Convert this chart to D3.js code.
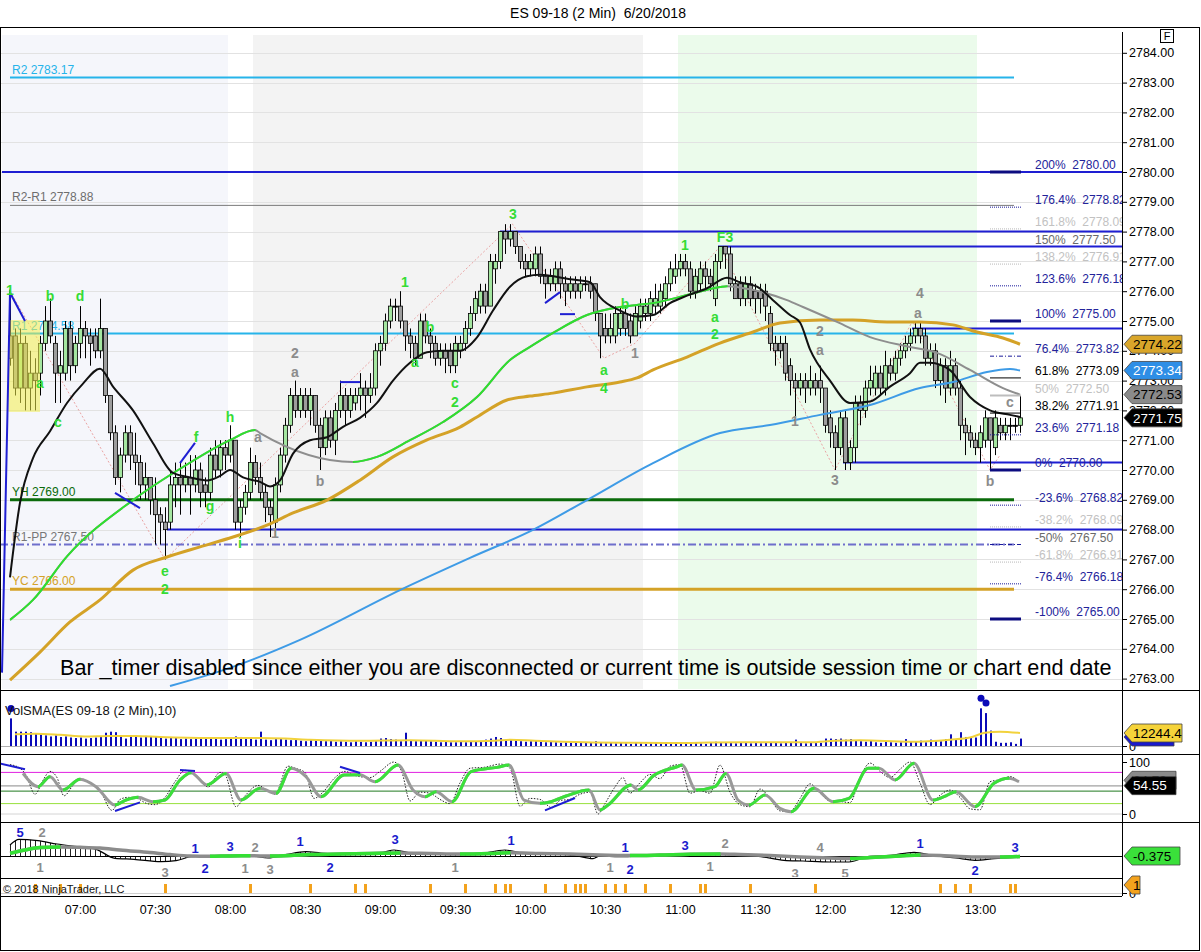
<!DOCTYPE html>
<html><head><meta charset="utf-8">
<script src="https://cdn.jsdelivr.net/npm/d3@7"></script>
<style>
body{margin:0;background:#fff}
svg{font-family:Arial,"Liberation Sans",sans-serif}
.pre{white-space:pre}
</style>
</head><body>
<svg id="c" width="1201" height="952"></svg>
<script>
// ---------------- DATA ----------------
const title = "ES 09-18 (2 Min)  6/20/2018";
const sessionStart = new Date(2018,5,20,6,32);   // first 2-minute bar
const barMinutes = 2;
const opens = [2774.5,2774.5,2772.75,2774.25,2772.75,2773.25,2773.25,2774.25,2775,2774.25,
2773.25,2773.25,2774.75,2773.5,2774.25,2774.75,2774.5,2774.5,2774,2774.75,
2772.5,2771.25,2769.75,2770.5,2771.25,2770.5,2770.25,2769.5,2769.75,2769,
2768.5,2768.25,2768.25,2769.5,2769.75,2769.5,2769.75,2769.5,2770,2769.5,
2769.25,2770.5,2770,2770.75,2770.5,2771,2768.25,2768.75,2769.25,2770.25,
2769.75,2769.25,2768.75,2768.25,2769.5,2770.5,2771.5,2772.5,2772,2772.5,
2772,2772.5,2771.5,2770.75,2771.75,2771,2772,2772.5,2772,2772.25,
2772.5,2772.75,2772.5,2772.75,2774,2774.25,2775,2775.5,2775.5,2775,
2774.5,2774.25,2773.75,2775,2774.5,2774.25,2773.75,2774,2774,2773.5,
2774,2774.25,2774.75,2775.25,2775.5,2776,2775.5,2776.75,2777,2778,
2777.75,2778,2777.5,2777,2776.75,2776.75,2777.25,2776.5,2776.25,2776.25,
2776.75,2776.25,2776,2776.25,2776,2776.25,2776.25,2776.25,2775.25,2774.75,
2774.5,2774.5,2774.75,2775.25,2775,2774.5,2775,2775.25,2775.25,2775.5,
2775.5,2775.75,2776.25,2776.5,2776.75,2777,2776.75,2776,2776.25,2776.75,
2776.5,2775.75,2777,2777.5,2777.25,2776.25,2776.25,2775.75,2776.25,2776,
2776,2776,2775.25,2774.25,2774.25,2774.25,2773.5,2773,2772.75,2773,
2772.75,2773,2773,2772.75,2771.75,2771.25,2770.75,2771.75,2770.25,2770.75,
2772.25,2772,2772.75,2772.75,2773.25,2772.75,2773.5,2773.25,2773.75,2774,
2774.25,2774.5,2774.75,2774.5,2773.75,2774,2773,2773.5,2772.75,2773.5,
2772.75,2771.5,2771.25,2771,2770.75,2771,2771.75,2770.75,2771.5,2771.25,
2771.5,2771.5,2771.5];
const highs = [2776,2774.75,2774.75,2774.5,2774,2773.75,2774.5,2775.5,2775.75,2774.5,
2774,2775,2775,2774.5,2775.5,2775,2774.75,2774.75,2775.75,2774.75,
2772.5,2771.5,2770.75,2771.5,2771.5,2771.25,2770.5,2770.25,2769.75,2769.75,
2768.75,2768.75,2770,2770.25,2770.25,2770.25,2770.5,2770.5,2770.25,2769.75,
2770.75,2771,2771,2771,2771.5,2771,2769,2769.5,2770.75,2770.5,
2770.25,2769.5,2769,2769.75,2770.75,2771.75,2772.75,2773,2772.75,2772.75,
2772.75,2772.5,2771.75,2772,2772,2772.25,2773,2772.75,2772.75,2772.75,
2773.25,2773,2773.25,2774.25,2774.5,2775.25,2775.75,2775.75,2776,2775,
2774.75,2774.5,2775.25,2775.25,2774.75,2774.5,2774.25,2774.25,2774.25,2774.5,
2774.5,2775,2775.5,2776,2776.25,2776.25,2777.25,2777.25,2778,2778.25,
2778.25,2778,2777.5,2777.25,2777.25,2777.5,2777.5,2776.75,2776.75,2777,
2777,2776.5,2776.5,2776.5,2776.5,2776.5,2776.5,2776.25,2775.25,2775.25,
2775.25,2775.5,2775.5,2775.5,2775.25,2775.5,2775.75,2775.75,2776,2776.25,
2776.25,2776.5,2777,2777.25,2777.25,2777.25,2777,2776.75,2777,2777,
2776.75,2777.25,2777.5,2777.5,2777.5,2776.5,2776.5,2776.5,2776.5,2776.25,
2776.25,2776.25,2775.5,2774.5,2774.5,2774.5,2773.75,2773.25,2773.25,2773.25,
2773.5,2773.25,2773.5,2772.75,2772,2771.5,2772,2772,2771,2772.5,
2772.5,2773,2773.5,2773.5,2773.5,2774,2773.75,2774,2774.25,2774.5,
2774.75,2775,2775,2774.75,2774.25,2774.25,2773.75,2773.75,2774,2773.75,
2773,2771.75,2771.5,2771.25,2771.5,2772,2771.75,2772,2771.75,2771.75,
2771.75,2771.75,2772.5];
const lows = [2773.5,2772.5,2772.25,2772,2772,2772,2772.5,2774,2774.25,2772.25,
2772.25,2773,2773,2773.25,2773.75,2773.75,2773.5,2773.75,2773.75,2772.25,
2771,2769.5,2769.25,2770.25,2770,2769.5,2769,2769,2768.5,2767.5,
2767.5,2767,2768,2768.75,2768.5,2769.25,2768.5,2769.25,2768.75,2768.75,
2769,2769.75,2769.75,2770,2770.25,2768,2767.75,2768.5,2769,2769.5,
2769,2768.25,2767.75,2767.75,2769.25,2770.25,2771.25,2771.75,2771.75,2771.75,
2771.5,2771.25,2770,2770.5,2770.75,2770.5,2771.75,2771.5,2771.75,2772,
2772,2771.75,2772.25,2772.5,2773.5,2774,2774.75,2775,2774.75,2774,
2773.75,2773.5,2773.75,2774.25,2773.75,2773.5,2773.5,2773.25,2773.25,2773.25,
2773.75,2774,2774.5,2775,2775.25,2775.25,2775.5,2776.25,2776.75,2777.25,
2777.5,2777.25,2776.75,2776.5,2776.5,2776.5,2776.25,2775.75,2776,2776,
2775.75,2775.5,2775.75,2775.75,2775.75,2776,2775.75,2775,2773.75,2774.25,
2774.25,2774.25,2774.5,2774.5,2774.25,2774.5,2774.75,2775,2775,2775.25,
2775.25,2775.5,2776,2776.25,2776.5,2776.5,2775.75,2775.75,2776,2776,
2776,2775.5,2776.75,2776.75,2776,2775.75,2775.5,2775.5,2775.5,2775.25,
2775.25,2775,2774,2773.5,2773.75,2773,2772.5,2771.75,2772.5,2772.25,
2772.5,2772.5,2772.25,2771.25,2770.75,2770,2770.5,2770,2770,2770.25,
2771.5,2771.75,2772.5,2772.5,2772.5,2772.5,2773,2773,2773.5,2773.75,
2774,2774.25,2774.25,2773.5,2773.5,2772.75,2772.5,2772.25,2772.5,2772.5,
2771,2770.5,2770.75,2770.5,2770.25,2770.75,2770,2770.5,2771,2771,
2771,2771.25,2771.25];
const closes = [2773.75,2772.75,2774.25,2772.75,2773.25,2773,2774.25,2775,2774.5,2773.25,
2773.5,2774.75,2773.5,2774.25,2774.75,2774.5,2774.25,2774,2774.75,2772.5,
2771.25,2769.75,2770.5,2771.25,2770.5,2770.25,2769.5,2769.75,2769,2768.5,
2768.25,2768,2769.5,2769.75,2769.5,2769.75,2769.5,2770,2769.25,2769.25,
2770.5,2770,2770.75,2770.5,2771,2768.25,2768.75,2769.25,2770.25,2769.75,
2769.25,2768.75,2768.5,2769.5,2770.5,2771.5,2772.5,2772,2772.5,2772,
2772.5,2771.5,2770.75,2771.75,2771,2772,2772.5,2772,2772.5,2772.5,
2772.75,2772.5,2772.75,2774,2774.25,2775,2775.5,2775.5,2775,2774.5,
2774.25,2773.75,2775,2774.5,2774.25,2773.75,2774,2773.75,2773.5,2774.25,
2774.25,2774.75,2775.25,2775.75,2776,2775.5,2777,2777,2778,2777.75,
2778,2777.5,2777,2776.75,2777,2777.25,2776.5,2776.25,2776.5,2776.75,
2776.25,2776,2776.25,2776,2776.25,2776.25,2776,2775.25,2774.5,2774.5,
2774.75,2775.25,2775.25,2774.75,2774.5,2775.25,2775.5,2775.5,2775.75,2775.75,
2776,2776.25,2776.75,2776.75,2777,2776.75,2776,2776.5,2776.75,2776.5,
2776.25,2777,2777.5,2777.25,2776.25,2775.75,2775.75,2776.25,2775.75,2775.75,
2775.75,2775.5,2774.25,2774,2774,2773.25,2773,2772.75,2773,2772.75,
2773,2772.75,2772.75,2771.5,2771.25,2770.75,2771.75,2770.25,2770.75,2772.25,
2772,2772.75,2773,2773.25,2772.75,2773.5,2773.25,2773.75,2774,2774.25,
2774.5,2774.75,2774.5,2773.75,2774,2773,2773.5,2772.75,2773.5,2772.75,
2771.5,2771.25,2771,2770.75,2771.25,2771.75,2771,2771.75,2771.25,2771.5,
2771.5,2771.5,2771.75];
const volumes = [26000,13500,13500,13500,13000,12000,11000,10000,9000,10000,
8500,9000,8000,7500,8000,7000,7500,8000,9000,12500,
13500,13000,9000,7000,8500,9000,8000,9500,9000,8500,
8000,7000,8500,7500,6500,7000,6500,7000,8000,7500,
7000,8000,6000,6500,7000,9000,8500,8000,7000,6000,
13500,6000,5500,6500,7000,6000,5500,6000,5000,4500,
5500,5000,5000,4500,5000,4000,4500,4000,3500,4500,
4000,3500,4000,4500,7000,7500,6500,6000,4500,12500,
5000,4500,5500,5000,4500,4000,3500,4000,3500,3500,
4000,3500,4000,4000,4500,6000,7000,8500,7500,6000,
5500,5000,4500,4000,4500,5000,4000,3500,4000,3500,
3000,3500,3000,3500,3000,3500,3000,4500,3500,2500,
3000,2500,3000,2500,2000,3000,2500,2000,2500,3000,
2500,2000,3000,2500,3000,2500,3500,3000,2500,2000,
3000,4000,3500,3500,3000,2500,3000,3500,2500,3000,
2500,3000,3500,3000,2500,3000,3500,6000,3000,2500,
3000,3500,3000,7000,7000,6500,7000,6000,6500,5000,
4500,4000,5000,3500,3000,4000,3500,3000,3500,6500,
4000,4500,5000,3500,6000,5000,4500,6500,11000,6500,
13000,8500,7500,8000,35500,31000,14500,4000,3000,3000,
3500,2000,7000];
const volSpikeBars = [0,194,195];
const volSma = [[1,11000],[5,11500],[10,10500],[15,9000],[20,9500],[25,9500],[30,8500],[40,7500],[50,7500],[55,7000],[60,6000],[70,5000],[80,5500],[90,4500],[97,5000],[100,6000],[105,5000],[115,3500],[125,3000],[135,2800],[140,3200],[150,3500],[160,3500],[165,5000],[170,5500],[180,4000],[188,6000],[192,8000],[195,12500],[198,13500],[202,12244.4]];

// moving averages: [bar index, price]
const maFast = [[0,2766.4],[2,2768.9],[4.6,2770.4],[8,2771.3],[11.4,2772.25],[14.6,2772.9],[18,2773.4],[20.6,2772.8],[24.6,2772.0],[28.6,2770.9],[32.6,2769.9],[36,2769.75],[39.4,2769.65],[42,2769.8],[44,2770.0],[46.6,2769.75],[50,2769.6],[52,2769.45],[54,2769.65],[56.6,2770.55],[60,2771.0],[63.4,2771.1],[66.6,2771.45],[70,2771.75],[73.4,2772.25],[76.6,2773.0],[80,2773.6],[83.4,2773.95],[86.6,2774.0],[90,2774.0],[93.4,2774.45],[96.6,2775.35],[100,2776.15],[103.4,2776.5],[106,2776.55],[112,2776.4],[116,2776.3],[118,2775.8],[122,2775.35],[125.4,2775.15],[128.6,2775.2],[132,2775.6],[135.4,2775.85],[139.4,2776.1],[143.4,2776.45],[146,2776.3],[149.4,2776.15],[152.6,2775.7],[156,2775.2],[158,2774.95],[160,2774.05],[164,2773.0],[168,2772.25],[172,2772.3],[176,2772.8],[180,2773.25],[182,2773.6],[184,2773.6],[188,2773.35],[192,2772.45],[196,2772.0],[200,2771.85],[202,2771.78]];
const maMid = [[0,2764.97],[4.6,2765.64],[11.4,2767.1],[24.6,2768.99],[34.6,2770.1],[44,2771.0],[49,2771.34],[50,2771.24],[68.6,2770.27],[73.4,2770.44],[80,2771.0],[86.6,2771.61],[93.4,2772.45],[100,2773.69],[104,2774.13],[108.6,2774.6],[115.4,2775.2],[122,2775.47],[125.4,2775.54],[128.6,2775.6],[135.4,2775.87],[142,2776.14],[143.4,2776.17],[148.6,2776.04],[155.4,2775.7],[158.6,2775.47],[165.4,2774.97],[172,2774.46],[180,2774.13],[185.4,2773.93],[192,2773.36],[198.6,2772.75],[202,2772.53]];
const maSlow = [[0,2762.95],[6,2763.89],[12,2764.9],[18,2765.64],[24.6,2766.64],[31.4,2767.08],[38,2767.42],[44.6,2767.75],[51.4,2768.15],[56.6,2768.56],[63.4,2768.99],[70,2769.66],[76.6,2770.44],[83.4,2771.01],[90,2771.44],[93.4,2771.78],[99.4,2772.35],[104,2772.48],[108.6,2772.58],[115.4,2772.79],[122,2772.95],[125.4,2773.09],[128.6,2773.36],[135.4,2773.79],[142,2774.26],[148.6,2774.63],[154,2774.93],[162,2775.03],[168.6,2775.03],[175.4,2774.97],[182,2774.97],[188.6,2774.87],[193.4,2774.63],[198.6,2774.43],[202,2774.22]];
const maLong = [[32,2762.75],[44,2763.36],[58,2764.3],[78,2765.97],[92,2767.05],[104.6,2767.99],[115.4,2768.99],[128.6,2770.23],[142,2771.24],[152,2771.51],[162,2771.85],[172,2772.18],[182,2772.75],[188.6,2772.95],[195.4,2773.29],[200,2773.39],[202,2773.34]];

// pivot levels
const pivotNames = ["R2","R2-R1","R1","YH","R1-PP","YC"];
const pivotValues = [2783.17,2778.88,2774.58,2769.00,2767.50,2766.00];
// swing lines (price, start bar)
const swingPrices = [2780.00,2778.00,2777.50,2774.75,2770.25,2768.00];
const swingStarts = [-1.6,98,141.6,180.4,166.6,31.4];
// fibonacci
const fibPcts = ["200%","176.4%","161.8%","150%","138.2%","123.6%","100%","76.4%","61.8%","50%","38.2%","23.6%","0%","-23.6%","-38.2%","-50%","-61.8%","-76.4%","-100%"];
const fibPrices = [2780.00,2778.82,2778.09,2777.50,2776.91,2776.18,2775.00,2773.82,2773.09,2772.50,2771.91,2771.18,2770.00,2768.82,2768.09,2767.50,2766.91,2766.18,2765.00];
// sessions (bar index ranges)
const sessionRanges = [[-1.6,43.6],[48.6,126.6],[133.6,193.4]];
// swing zigzag
const zigzag = [[0,2776],[31,2767],[100.5,2778.25],[118.8,2773.75],[125,2774.25],[142,2777.5],[165,2770],[180.5,2775],[196,2770],[198,2770.5]];
const blueZig = [[-1.6,2763.2],[0,2775.95],[3,2775.0]];
const blueMarks = [[[21,2769.23],[26,2768.72]],[[34,2770.23],[37,2770.91]],[[66,2772.95],[70,2772.95]],[[107,2775.6],[110,2775.97]],[[110,2775.23],[113,2775.23]]];
const highlightBox = [[-0.3,2775.03],[6,2771.95]];
// wave labels [bar, price, text, kind]
const waveLabels = [[0,2776.04,"1","g"],[8,2775.84,"b","g"],[14,2775.84,"d","g"],[6,2772.92,"a","g"],[9.6,2771.61,"c","g"],[31,2766.61,"e","g"],[31,2766.01,"2","g"],[37.2,2771.11,"f","g"],[40,2768.79,"g","g"],[44,2771.78,"h","g"],[46,2767.55,"i","g"],[49.6,2771.11,"a","k"],[53,2767.89,"1","k"],[57,2773.93,"2","k"],[57,2773.29,"a","k"],[62,2769.63,"b","k"],[79,2776.31,"1","g"],[84,2774.8,"b","g"],[81,2773.62,"a","g"],[89,2772.92,"c","g"],[89,2772.28,"2","g"],[100.6,2778.59,"3","g"],[118.8,2773.36,"a","g"],[118.8,2772.75,"4","g"],[123,2775.57,"b","g"],[125,2773.93,"1","k"],[135,2777.55,"1","g"],[143,2777.82,"F3","g"],[141,2775.13,"a","g"],[141,2774.56,"2","g"],[162,2774.66,"2","k"],[162,2774.03,"a","k"],[157,2771.64,"1","k"],[165,2769.66,"3","k"],[182,2775.94,"4","k"],[181.6,2775.27,"a","k"],[196,2769.63,"b","k"],[200,2772.28,"c","k"]];

// stochastics
const stochLevels = [80,54,44,20,0];
const stochSlow = [[2.6,78],[5.6,52.6],[8,71.8],[10.6,46.2],[14,66.7],[17.2,52.6],[21,17.3],[23.2,26.9],[25.6,32],[28.6,23.5],[31,26.9],[34,65.4],[36.2,79.5],[39.4,55.8],[43.2,78],[46.2,26.9],[50,49.4],[53.2,39.7],[56.2,87.8],[59.2,71.8],[62.2,33.3],[66.8,75],[70,75.5],[73,62],[77.6,94],[80.6,46.2],[83,33.3],[85.2,42.9],[88.4,23.7],[92.2,81.4],[97.4,89.7],[99.8,94],[102.8,26.9],[106,20.5],[108.2,23.7],[111.2,34.6],[115.8,46.2],[118,7.7],[119.6,17.3],[124.2,55.8],[125.6,46.2],[128.8,74.4],[133.4,90.8],[134.4,94],[137.2,46.2],[141,52.6],[143.2,78],[145.6,26.9],[147.8,17.3],[151,36.5],[154,10.9],[156.2,4.5],[160.8,49.4],[164.6,23.7],[167.8,30],[171.6,87.8],[173.8,88.2],[177,65.4],[180.8,97.4],[184.6,26.9],[186.8,33.3],[189.2,42.9],[193,14.1],[196.8,59],[199.8,68.6],[201.8,62]];
const stochFast = [[0,95],[2,88],[3.2,75],[5,38],[6.6,65],[8,82],[9.4,70],[10.8,35],[12.6,55],[14,68],[16,60],[18,45],[20.4,7],[22,28],[23.6,32],[25.4,30],[27.4,20],[29,18],[31,32],[33,62],[35,84],[36.4,80],[38.2,62],[39.6,52],[42,80],[43,76],[45.2,14],[47,35],[49.6,55],[51.6,44],[53,38],[55.6,92],[57,88],[59,80],[60.8,30],[62.4,40],[65,70],[67,82],[69,74],[72,70],[74,82],[76.8,100],[78.4,80],[80,25],[82,42],[84,40],[86,28],[88,20],[90,60],[92,88],[95,90],[98,96],[100,88],[102,15],[104,30],[106,28],[108.4,12],[110,26],[112,28],[114,38],[116,42],[117.6,0],[119,20],[121,52],[122.6,70],[124,40],[126,60],[128,76],[130,68],[132,92],[134,95],[136,40],[138,45],[140,40],[142,94],[144,42],[146,18],[148,14],[150,48],[152,30],[154,6],[156,5],[158,30],[160,58],[162,40],[164,25],[166,24],[168,22],[170,70],[172,98],[174,82],[176,70],[178,86],[180,100],[182,60],[184,18],[186,36],[188,46],[190,32],[192,10],[194,8],[196,62],[198,66],[200,72],[202,60]];
const stochDiv = [[[-2,97],[3,86]],[[21,5.7],[26,22.4]],[[34,84.6],[37,82.7]],[[66,90.8],[70,79]],[[107,7],[113,30.8]]];

// oscillator (macd-style)
const oscLine = [[0,1.1],[1.8,1.67],[5.6,1.53],[9.4,1.2],[13.4,0.93],[17.2,0.67],[21,-0.23],[24.8,-0.33],[30.2,-0.57],[33.2,-0.47],[36.2,-0.07],[39.4,0],[44,0.07],[48.6,0],[51.6,-0.2],[55.4,0.17],[59.2,0.43],[62.2,0.3],[66.8,0.2],[74.6,0.37],[76.8,0.6],[80.6,0.27],[86,0.2],[89.8,0.13],[93.6,0.2],[99,0.6],[102.8,0.27],[109,0.2],[112.8,0.07],[116.6,-0.27],[118,0],[121.8,-0.07],[125.6,0],[129.4,0.07],[134.8,0.23],[142.4,0.23],[144.8,0.07],[150.2,-0.07],[154.8,-0.43],[158.6,-0.5],[164,-0.6],[167.8,-0.6],[171.6,-0.07],[176.2,0.07],[180.8,0.37],[184.6,0.07],[189.2,-0.2],[193,-0.43],[196.8,-0.27],[201.8,-0.1]];
const oscSignal = [[0,0.27],[3,0.6],[6,0.85],[10,0.9],[14,0.87],[18,0.8],[22,0.6],[28,0.35],[32,0.15],[36,0],[40,-0.03],[44,0.01],[48,0.02],[52,0.0],[56,0.05],[60,0.15],[66,0.2],[72,0.25],[78,0.3],[84,0.25],[90,0.2],[96,0.25],[100,0.32],[106,0.25],[112,0.2],[118,0.1],[124,0.05],[130,0.1],[136,0.18],[142,0.2],[146,0.15],[152,0.05],[158,-0.1],[164,-0.2],[168,-0.25],[172,-0.15],[178,0],[182,0.1],[186,0.05],[190,-0.05],[194,-0.1],[198,-0.1],[202,-0.05]];
const oscLabels = [[2,2.4,"5","b"],[6.4,2.4,"2","k"],[6,-1.1,"1","k"],[31,-1.6,"3","k"],[37,0.8,"1","b"],[39,-1.2,"2","b"],[44,1.0,"3","b"],[49,0.9,"2","k"],[47,-1.2,"1","k"],[52,-1.3,"3","k"],[58,1.5,"1","b"],[64,-1.1,"2","b"],[77,1.7,"3","b"],[89,-1.1,"1","k"],[100.2,1.6,"1","b"],[123,0.9,"1","b"],[124,-1.3,"2","b"],[120,-1.1,"1","k"],[135,1.1,"3","b"],[143,1.3,"2","k"],[140,-1.0,"1","k"],[157,-1.7,"3","k"],[162,0.9,"4","k"],[167,-1.7,"5","k"],[182,1.3,"1","b"],[193,-1.4,"2","b"],[201,0.9,"3","b"]];
// signal markers
const markerBars = [5,10,14,31,48,60,69,71,84,91,97,99,100,107,111,113,114,115,119,121,123,127,132,138,139,148,161,186,189,192,200,201];

const priceTicks = d3.range(2763,2785);
const lastTags = [[2774.22,"#d9a62a","#000"],[2773.34,"#2e8ee6","#fff"],[2772.53,"#8a8a8a","#000"],[2771.75,"#000","#fff"]];
const timerText = "Bar _timer disabled since either you are disconnected or current time is outside session time or chart end date";

// ---------------- CHART ----------------
const svg = d3.select("#c");
const AX = 1122;
const defs = svg.append("defs");
const x = d3.scaleLinear().domain([0,202]).range([10,1020]);
const tx = d3.scaleTime().domain([sessionStart, d3.timeMinute.offset(sessionStart, 202*barMinutes)]).range([10,1020]);
const y = d3.scaleLinear().domain([2763,2784]).range([678.6,52.8]);
const yV = d3.scaleLinear().domain([0,12244.4]).range([746,733]);
const yS = d3.scaleLinear().domain([0,100]).range([814,762]);
const yO = d3.scaleLinear().domain([0,1]).range([856,846]);

const NAVY="#23239b";

function clip(id, x0, y0, w, h){ defs.append("clipPath").attr("id",id).append("rect").attr("x",x0).attr("y",y0).attr("width",w).attr("height",h); }
clip("cp",1,28,AX-1,662); clip("cv",1,691,AX-1,62); clip("cs",1,755,AX-1,66); clip("co",1,823,AX-1,54);
clip("cfib",1,28,AX-1,662);

// title
svg.append("text").attr("class","pre").attr("x",598).attr("y",18).attr("text-anchor","middle").attr("font-size",14).text(title);

// ---- price panel
const P = svg.append("g").attr("clip-path","url(#cp)");
const sessFill = ["#f5f6fb","#f3f3f3","#ebfbeb"];
P.selectAll("rect.sess").data(sessionRanges).join("rect").attr("x",d=>x(d[0])).attr("width",d=>x(d[1])-x(d[0])).attr("y",35).attr("height",654).attr("fill",(d,i)=>sessFill[i]);
P.selectAll("line.grid").data(priceTicks).join("line").attr("x1",0).attr("x2",AX).attr("y1",d=>Math.round(y(d))+0.5).attr("y2",d=>Math.round(y(d))+0.5).attr("stroke","#e2e2e2");

// pink zigzag
P.append("path").attr("d",d3.line().x(d=>x(d[0])).y(d=>y(d[1]))(zigzag)).attr("fill","none").attr("stroke","#eaa4a4").attr("stroke-width",1).attr("stroke-dasharray","2,2");

// pivot lines
const pivStyle = [{c:"#26b4ea",w:2,t:"#26b4ea"},{c:"#7a7a7a",w:1,t:"#6e6e6e"},{c:"#26b4ea",w:2,t:"#26b4ea"},{c:"#0b6b0b",w:3,t:"#0b6b0b"},{c:"#6f6fcc",w:2,t:"#777",dash:"8,3,2,3"},{c:"#d4a227",w:3,t:"#d4a227"}];
const pivStart = [0,0,0,0,-2,0];
pivotValues.forEach((v,i)=>{
  const s = pivStyle[i];
  P.append("line").attr("x1",x(pivStart[i])).attr("x2",x(200.8)).attr("y1",y(v)).attr("y2",y(v)).attr("stroke",s.c).attr("stroke-width",s.w).attr("stroke-dasharray",s.dash||null);
  P.append("text").attr("x",12).attr("y",y(v)-4).attr("font-size",12).attr("fill",s.t).text(pivotNames[i]+" "+v.toFixed(2));
});
// swing horizontal lines
swingPrices.forEach((v,i)=>{
  P.append("line").attr("x1",x(swingStarts[i])).attr("x2",AX).attr("y1",y(v)).attr("y2",y(v)).attr("stroke","#1e1ed2").attr("stroke-width",2);
});

// candles
const bars = d3.range(opens.length).map(i=>({i,o:opens[i],h:highs[i],l:lows[i],c:closes[i]}));
const CG = P.append("g");
CG.selectAll("line").data(bars).join("line").attr("x1",d=>x(d.i)+0.5).attr("x2",d=>x(d.i)+0.5).attr("y1",d=>y(d.h)).attr("y2",d=>y(d.l)).attr("stroke","#000").attr("stroke-width",1);
CG.selectAll("rect").data(bars).join("rect")
  .attr("x",d=>x(d.i)-1.5).attr("width",4)
  .attr("y",d=>y(Math.max(d.o,d.c))).attr("height",d=>Math.max(1,Math.abs(y(d.o)-y(d.c))))
  .attr("fill",d=>d.c>d.o?"#a4e6a0":d.c<d.o?"#9d9d9d":"#000").attr("stroke","#000").attr("stroke-width",0.8);

// highlight box (translucent, over the bars)
P.append("rect").attr("x",x(highlightBox[0][0])).attr("y",y(highlightBox[0][1])).attr("width",x(highlightBox[1][0])-x(highlightBox[0][0])).attr("height",y(highlightBox[1][1])-y(highlightBox[0][1])).attr("fill","#f2ee4a").attr("opacity",0.55);

// slope colored line helper
let clipN=0;
function slopeLine(g, pts, xs, ys, up, down, width){
  const ln = d3.line().x(d=>xs(d[0])).y(d=>ys(d[1])).curve(d3.curveMonotoneX);
  g.append("path").attr("d",ln(pts)).attr("fill","none").attr("stroke",down).attr("stroke-width",width).attr("stroke-linejoin","round");
  const id="sl"+(clipN++);
  const cp = defs.append("clipPath").attr("id",id);
  for(let k=0;k<pts.length-1;k++) if(pts[k+1][1]>pts[k][1]) cp.append("rect").attr("x",xs(pts[k][0])).attr("width",xs(pts[k+1][0])-xs(pts[k][0])+0.5).attr("y",0).attr("height",952);
  g.append("path").attr("d",ln(pts)).attr("fill","none").attr("stroke",up).attr("stroke-width",width).attr("stroke-linejoin","round").attr("clip-path","url(#"+id+")");
}
const lineP = d3.line().x(d=>x(d[0])).y(d=>y(d[1])).curve(d3.curveMonotoneX);
P.append("path").attr("d",lineP(maLong)).attr("fill","none").attr("stroke","#3e9be6").attr("stroke-width",2);
P.append("path").attr("d",lineP(maSlow)).attr("fill","none").attr("stroke","#d4a227").attr("stroke-width",3);
slopeLine(P, maMid, x, y, "#2ee02e", "#8e8e8e", 2);
P.append("path").attr("d",lineP(maFast)).attr("fill","none").attr("stroke","#111").attr("stroke-width",2);

// blue marks
P.append("path").attr("d",d3.line().x(d=>x(d[0])).y(d=>y(d[1]))(blueZig)).attr("fill","none").attr("stroke","#1e1ed2").attr("stroke-width",2);
blueMarks.forEach(m=>P.append("line").attr("x1",x(m[0][0])).attr("y1",y(m[0][1])).attr("x2",x(m[1][0])).attr("y2",y(m[1][1])).attr("stroke","#1e1ed2").attr("stroke-width",2));

// fib markers + labels
const fibMark = ["thick","dotN","dotL","none","dotL","dotN","thick","ddN","solK","solL","solK","dotN","thick","dotN","dotL","ddN","dotL","dotN","thick"];
const fibTextCol = [NAVY,NAVY,"#c2c2c2","#6a6a6a","#c2c2c2",NAVY,NAVY,NAVY,"#000","#c2c2c2","#000",NAVY,NAVY,NAVY,"#c2c2c2","#6a6a6a","#c2c2c2",NAVY,NAVY];
const F = svg.append("g").attr("clip-path","url(#cfib)");
fibPrices.forEach((v,i)=>{
  const m = fibMark[i];
  if(m!=="none"){
    const ln = F.append("line").attr("x1",x(196)).attr("x2",x(202.2)).attr("y1",y(v)).attr("y2",y(v));
    if(m==="thick") ln.attr("stroke","#0c0c80").attr("stroke-width",3);
    else if(m==="dotN") ln.attr("stroke","#1a1a9a").attr("stroke-width",1).attr("stroke-dasharray","1,1");
    else if(m==="dotL") ln.attr("stroke","#b8b8b8").attr("stroke-width",1).attr("stroke-dasharray","1,1");
    else if(m==="ddN") ln.attr("stroke","#1a1a9a").attr("stroke-width",1).attr("stroke-dasharray","4,2,1,2");
    else if(m==="solK") ln.attr("stroke","#000").attr("stroke-width",1);
    else ln.attr("stroke","#bdbdbd").attr("stroke-width",2);
  }
  F.append("text").attr("class","pre").attr("x",1035).attr("y",y(v)-3).attr("font-size",12).attr("fill",fibTextCol[i]).text(fibPcts[i]+"  "+v.toFixed(2));
});

// wave labels
P.selectAll("text.wl").data(waveLabels).join("text").attr("x",d=>x(d[0])).attr("y",d=>y(d[1])).attr("dy","0.36em").attr("text-anchor","middle").attr("font-size",14).attr("font-weight","bold").attr("fill",d=>d[3]==="g"?"#35dc35":"#8c8c8c").text(d=>d[2]);

// timer text
P.append("text").attr("x",60).attr("y",675).attr("font-size",21.6).attr("fill","#000").text(timerText);

// price axis
const ay = svg.append("g").attr("transform",`translate(${AX},0)`).call(d3.axisRight(y).tickValues(priceTicks).tickFormat(d3.format(".2f")).tickSize(5).tickPadding(2));
ay.select(".domain").remove();
ay.selectAll("text").attr("font-size",12.5).attr("font-family","Arial, Liberation Sans, sans-serif").attr("fill","#000");

// ---- volume panel
const V = svg.append("g").attr("clip-path","url(#cv)");
V.append("line").attr("x1",0).attr("x2",AX).attr("y1",746.5).attr("y2",746.5).attr("stroke","#b0b0b0");
V.selectAll("rect").data(volumes).join("rect").attr("x",(d,i)=>x(i)).attr("width",2).attr("y",d=>yV(d)).attr("height",d=>yV(0)-yV(d)).attr("fill","#0a0ab8");
V.append("path").attr("d",d3.line().x(d=>x(d[0])).y(d=>yV(d[1])).curve(d3.curveMonotoneX)(volSma)).attr("fill","none").attr("stroke","#f2d23c").attr("stroke-width",2);
V.selectAll("circle").data(volSpikeBars).join("circle").attr("cx",d=>x(d)+1).attr("cy",d=>yV(volumes[d])-10).attr("r",3.5).attr("fill","#0a0ab8");
svg.append("text").attr("x",5).attr("y",715).attr("font-size",13).attr("fill","#111").text("VolSMA(ES 09-18 (2 Min),10)");

// ---- stochastics panel
const S = svg.append("g").attr("clip-path","url(#cs)");
const stochCols = ["#e020e0","#8a8a8a","#207a20","#98e03c","#d4d4d4"];
stochLevels.forEach((v,i)=>S.append("line").attr("x1",0).attr("x2",AX).attr("y1",yS(v)).attr("y2",yS(v)).attr("stroke",stochCols[i]).attr("stroke-width",1));
S.append("path").attr("d",d3.line().x(d=>x(d[0])).y(d=>yS(d[1])).curve(d3.curveMonotoneX)(stochFast)).attr("fill","none").attr("stroke","#222").attr("stroke-width",1).attr("stroke-dasharray","1.5,1.5");
slopeLine(S, stochSlow, x, yS, "#3ae03a", "#999999", 3);
stochDiv.forEach(m=>S.append("line").attr("x1",x(m[0][0])).attr("y1",yS(m[0][1])).attr("x2",x(m[1][0])).attr("y2",yS(m[1][1])).attr("stroke","#1e1ed2").attr("stroke-width",2));

// ---- oscillator panel
const O = svg.append("g").attr("clip-path","url(#co)");
const pat = defs.append("pattern").attr("id","hatch").attr("patternUnits","userSpaceOnUse").attr("x",x(0)-2).attr("y",0).attr("width",5).attr("height",10);
pat.append("line").attr("x1",2.5).attr("x2",2.5).attr("y1",0).attr("y2",10).attr("stroke","#222").attr("stroke-width",1);
O.append("path").attr("d",d3.area().x(d=>x(d[0])).y0(yO(0)).y1(d=>yO(d[1])).curve(d3.curveMonotoneX)(oscLine)).attr("fill","url(#hatch)");
O.append("line").attr("x1",0).attr("x2",AX).attr("y1",856.5).attr("y2",856.5).attr("stroke","#000");
O.append("path").attr("d",d3.line().x(d=>x(d[0])).y(d=>yO(d[1])).curve(d3.curveMonotoneX)(oscLine)).attr("fill","none").attr("stroke","#000").attr("stroke-width",1.2);
slopeLine(O, oscSignal, x, yO, "#33e033", "#8c8c8c", 3.5);
O.selectAll("text").data(oscLabels).join("text").attr("x",d=>x(d[0])).attr("y",d=>yO(d[1])).attr("dy","0.36em").attr("text-anchor","middle").attr("font-size",13).attr("font-weight","bold").attr("fill",d=>d[3]==="b"?"#1a1acd":"#8c8c8c").text(d=>d[2]);

// ---- marker panel
const M = svg.append("g");
M.append("line").attr("x1",0).attr("x2",AX).attr("y1",893.5).attr("y2",893.5).attr("stroke","#d0d0d0");
M.selectAll("rect").data(markerBars).join("rect").attr("x",d=>x(d)-1).attr("width",3).attr("y",884).attr("height",9).attr("fill","#f3a21d");
svg.append("text").attr("x",3).attr("y",893).attr("font-size",11).attr("fill","#111").text("\u00a9 2018 NinjaTrader, LLC");

// ---- frame & separators
svg.append("rect").attr("x",0.5).attr("y",27.5).attr("width",1199).attr("height",923).attr("fill","none").attr("stroke","#000");
[690,754,822].forEach(v=>svg.append("line").attr("x1",0).attr("x2",1200).attr("y1",v+0.5).attr("y2",v+0.5).attr("stroke","#000"));
[878,896].forEach(v=>svg.append("line").attr("x1",0).attr("x2",AX).attr("y1",v+0.5).attr("y2",v+0.5).attr("stroke","#000"));
svg.append("line").attr("x1",AX+0.5).attr("x2",AX+0.5).attr("y1",32).attr("y2",896).attr("stroke","#000");

// secondary axes ticks
function smallAxis(scale, vals){
  const g = svg.append("g").attr("transform",`translate(${AX},0)`).call(d3.axisRight(scale).tickValues(vals).tickFormat(d3.format("d")).tickSize(5).tickPadding(2));
  g.select(".domain").remove();
  g.selectAll("text").attr("font-size",12.5).attr("font-family","Arial, Liberation Sans, sans-serif");
}
smallAxis(yS,[0,100]);
smallAxis(yV,[0]);
smallAxis(d3.scaleLinear().domain([0,1]).range([893,883]),[0]);

// time axis
const at = svg.append("g").attr("transform","translate(0,896)").call(d3.axisBottom(tx).ticks(d3.timeMinute.every(30)).tickFormat(d3.timeFormat("%H:%M")).tickSize(0).tickPadding(9));
at.select(".domain").remove();
at.selectAll("text").attr("font-size",12.5).attr("font-family","Arial, Liberation Sans, sans-serif");

// "F" box
svg.append("rect").attr("x",1160.5).attr("y",29.5).attr("width",13).attr("height",13).attr("fill","#fff").attr("stroke","#000");
svg.append("text").attr("x",1167).attr("y",40).attr("text-anchor","middle").attr("font-size",11).text("F");

// tags
function tag(yc, text, fill, color, w){
  const g = svg.append("g");
  g.append("path").attr("d",`M${AX+2},${yc} L${AX+10},${yc-9} L${AX+10+w},${yc-9} L${AX+10+w},${yc+9} L${AX+10},${yc+9} Z`).attr("fill",fill).attr("stroke","#444").attr("stroke-width",0.8);
  g.append("text").attr("x",AX+11).attr("y",yc).attr("dy","0.36em").attr("font-size",13.5).attr("fill",color).text(text);
}
lastTags.forEach(t=>tag(y(t[0]),t[0].toFixed(2),t[1],t[2],50));
tag(yV(12244.4)+4,"","#1a1acd","#fff",42);
tag(yV(12244.4),"12244.4","#f5d33a","#000",50);
tag(yS(64.79),"64.79","#8a8a8a","#000",44);
tag(yS(54.55),"54.55","#000","#fff",44);
tag(yO(0),"-0.375","#3ae03a","#000",48);
tag(885,"1","#f3a21d","#000",8);
</script>
</body></html>
